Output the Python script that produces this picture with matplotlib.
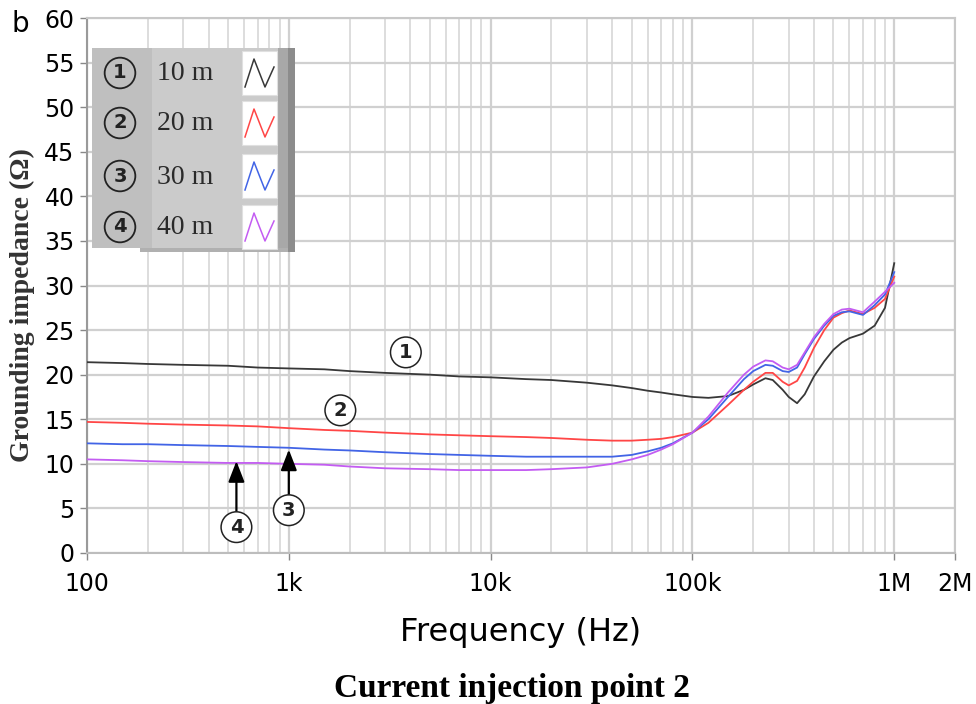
import matplotlib
matplotlib.use("Agg")
import matplotlib.pyplot as plt
from matplotlib.patches import Rectangle
from matplotlib.ticker import LogLocator, NullFormatter, FixedLocator

# frequency points (Hz)
freq_hz = [100, 150, 200, 300, 500, 700, 1000, 1500, 2000, 3000, 5000, 7000,
           10000, 15000, 20000, 30000, 40000, 50000, 60000, 70000, 80000,
           100000, 120000, 150000, 180000, 200000, 230000, 250000, 280000,
           300000, 330000, 360000, 400000, 450000, 500000, 550000, 600000,
           700000, 800000, 900000, 1000000]

z_10m = [21.4, 21.3, 21.2, 21.1, 21.0, 20.8, 20.7, 20.6, 20.4, 20.2, 20.0, 19.8,
         19.7, 19.5, 19.4, 19.1, 18.8, 18.5, 18.2, 18.0, 17.8,
         17.5, 17.4, 17.6, 18.3, 18.9, 19.6, 19.4, 18.3,
         17.5, 16.8, 17.8, 19.8, 21.5, 22.8, 23.6, 24.1,
         24.6, 25.5, 27.5, 32.5]
z_20m = [14.7, 14.6, 14.5, 14.4, 14.3, 14.2, 14.0, 13.8, 13.7, 13.5, 13.3, 13.2,
         13.1, 13.0, 12.9, 12.7, 12.6, 12.6, 12.7, 12.8, 13.0,
         13.5, 14.6, 16.6, 18.3, 19.2, 20.2, 20.2, 19.2,
         18.8, 19.3, 20.8, 23.0, 25.0, 26.4, 26.9, 27.2,
         26.8, 27.5, 28.5, 31.0]
z_30m = [12.3, 12.2, 12.2, 12.1, 12.0, 11.9, 11.8, 11.6, 11.5, 11.3, 11.1, 11.0,
         10.9, 10.8, 10.8, 10.8, 10.8, 11.0, 11.4, 11.8, 12.3,
         13.5, 15.0, 17.5, 19.5, 20.4, 21.1, 21.0, 20.4,
         20.3, 20.8, 22.3, 24.0, 25.5, 26.6, 27.0, 27.1,
         26.7, 27.8, 29.0, 31.5]
z_40m = [10.5, 10.4, 10.3, 10.2, 10.1, 10.1, 10.0, 9.9, 9.7, 9.5, 9.4, 9.3,
         9.3, 9.3, 9.4, 9.6, 10.0, 10.5, 11.0, 11.6, 12.2,
         13.5, 15.3, 18.0, 20.0, 20.9, 21.6, 21.5, 20.8,
         20.6, 21.1, 22.5, 24.2, 25.7, 26.8, 27.3, 27.4,
         27.0, 28.2, 29.3, 30.3]

series = [z_10m, z_20m, z_30m, z_40m]
labels = ["10 m", "20 m", "30 m", "40 m"]
numbers = ["1", "2", "3", "4"]
colors = ["#383838", "#ff4646", "#4264e6", "#c35cf2"]

x_ticks = [100, 1e3, 1e4, 1e5, 1e6, 2e6]
x_ticklabels = ["100", "1k", "10k", "100k", "1M", "2M"]
y_ticks = list(range(0, 61, 5))

W, H = 976, 704
fig = plt.figure(figsize=(W / 100, H / 100), dpi=100)
fig.patch.set_facecolor("white")


def px_rect(x0, y0, x1, y1):
    return [x0 / W, 1 - y1 / H, (x1 - x0) / W, (y1 - y0) / H]


ax = fig.add_axes(px_rect(87, 18, 955, 553))
ax.set_xscale("log")
ax.set_xlim(100, 2e6)
ax.set_ylim(0, 60)

for vals, c in zip(series, colors):
    ax.plot(freq_hz, vals, color=c, linewidth=1.3, zorder=3)

tick_font = dict(family=["Liberation Sans Narrow", "DejaVu Sans"], size=17)
ax.xaxis.set_major_locator(FixedLocator(x_ticks))
ax.set_xticklabels(x_ticklabels, **tick_font)
ax.xaxis.set_minor_locator(LogLocator(base=10, subs=range(2, 10), numticks=20))
ax.xaxis.set_minor_formatter(NullFormatter())
ax.set_yticks(y_ticks)
ax.set_yticklabels([str(v) for v in y_ticks], **tick_font)
ax.tick_params(which="major", length=5, width=1, color="#888888", pad=4)
ax.tick_params(axis="x", which="major", pad=9)
ax.tick_params(which="minor", length=0)

ax.grid(which="major", axis="both", color="#d0d0d0", linewidth=1.6)
ax.grid(which="minor", axis="x", color="#dadada", linewidth=1.3)
ax.set_axisbelow(True)
for s in ax.spines.values():
    s.set_color("#c8c8c8")
    s.set_linewidth(1.5)
ax.spines["left"].set_color("#9a9a9a")
ax.spines["bottom"].set_color("#bdbdbd")

ax.set_xlabel("Frequency (Hz)", fontsize=23, family="DejaVu Sans", labelpad=15)
fig.text(22 / W, 1 - 305 / H, "Grounding impedance (\u03a9)", rotation=90,
         ha="center", va="center", fontsize=20, fontweight="bold",
         family="Liberation Serif", color="#333333")
fig.text(512 / W, 1 - 688 / H, "Current injection point 2", ha="center",
         va="center", fontsize=24, fontweight="bold", family="Liberation Serif")
fig.text(12 / W, 1 - 24 / H, "b", ha="left", va="center", fontsize=20,
         family="DejaVu Sans")

# curve labels
circ = dict(boxstyle="circle,pad=0.3", fc="white", ec="#222222", lw=1.1)
num_font = dict(fontsize=14, fontweight="bold", family="DejaVu Sans",
                ha="center", va="center", color="#222222")
ax.text(3800, 22.5, "1", bbox=circ, **num_font)
ax.text(1800, 16.0, "2", bbox=circ, **num_font)
arrow = dict(arrowstyle="-|>,head_length=0.9,head_width=0.35", color="black",
             lw=1.6, shrinkA=0, shrinkB=0)
ax.annotate("3", xy=(1000, 11.6), xytext=(1000, 4.8), bbox=circ,
            arrowprops=arrow, **num_font)
ax.annotate("4", xy=(550, 10.3), xytext=(550, 2.9), bbox=circ,
            arrowprops=arrow, **num_font)

# legend panel drawn as its own small axes (pixel units)
lg = fig.add_axes(px_rect(92, 48, 295, 252))
lg.set_xlim(0, 203)
lg.set_ylim(204, 0)
lg.axis("off")
lg.add_patch(Rectangle((0, 0), 60, 200, fc="#bfbfbf", ec="none"))
lg.add_patch(Rectangle((60, 0), 126, 200, fc="#cbcbcb", ec="none"))
lg.add_patch(Rectangle((186, 0), 10, 204, fc="#a8a8a8", ec="none"))
lg.add_patch(Rectangle((196, 0), 7, 204, fc="#8c8c8c", ec="none"))
lg.add_patch(Rectangle((48, 200), 148, 4, fc="#b0b0b0", ec="none"))
rows = [25, 75, 128, 179]
lg_circ = dict(boxstyle="circle,pad=0.3", fc="none", ec="#222222", lw=1.3)
for yc, num, lab, c in zip(rows, numbers, labels, colors):
    lg.text(28, yc, num, bbox=lg_circ, fontsize=14, fontweight="bold",
            family="DejaVu Sans", ha="center", va="center", color="#222222")
    lg.text(65, yc + 1, lab, fontsize=20, family="Liberation Serif",
            ha="left", va="center", color="#2a2a2a")
    lg.add_patch(Rectangle((150, yc - 22), 35, 44, fc="white", ec="#e0e0e0",
                           lw=0.8))
    lg.plot([153, 162, 173, 182], [yc + 14, yc - 14, yc + 14, yc - 6],
            color=c, lw=1.1)

fig.savefig("out.png", dpi=100)
